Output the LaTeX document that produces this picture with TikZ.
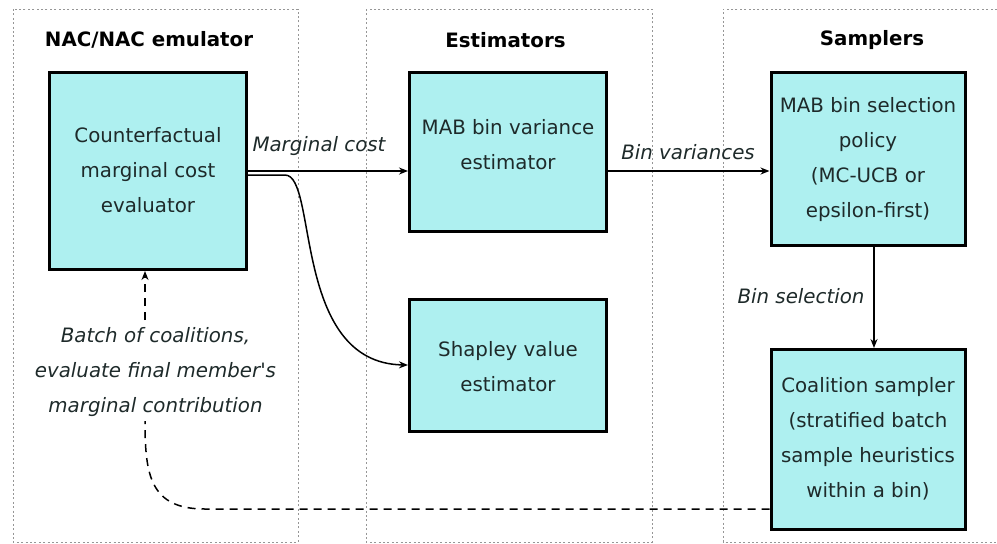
\documentclass[tikz,border=0pt]{standalone}
\usepackage{fontspec}
\setmainfont{DejaVu Sans}
\usetikzlibrary{arrows.meta}
\definecolor{boxfill}{RGB}{174,240,240}
\definecolor{txt}{RGB}{30,42,42}
\definecolor{panelc}{RGB}{150,150,150}
\begin{document}
\begin{tikzpicture}[x=0.5pt,y=-0.5pt,
  font=\fontsize{9.9pt}{17.5pt}\selectfont,
  panel/.style={draw=panelc,line width=0.5pt,dash pattern=on 1pt off 1.2pt},
  box/.style={draw=black,line width=1.5pt,fill=boxfill,inner sep=0pt},
  boxtext/.style={align=center,text=txt},
  title/.style={font=\fontsize{9.9pt}{12pt}\selectfont\bfseries},
  lbl/.style={font=\fontsize{9.9pt}{17.5pt}\selectfont\itshape,text=txt,align=center},
  conn/.style={line width=0.75pt,-{Stealth[length=4.5pt,width=3.5pt]}},
  backline/.style={line width=0.75pt,dash pattern=on 4pt off 3pt},
  back/.style={backline,-{Stealth[length=4.5pt,width=3.5pt]}}]
\useasboundingbox (0,0) rectangle (997,543);
% panels
\draw[panel] (13,9) rectangle (298,542);
\draw[panel] (366,9) rectangle (652,542);
\draw[panel] (997,9) -- (723,9) -- (723,542) -- (997,542);
% titles
\node[title] (T1) at (149,40) {NAC/NAC emulator};
\node[title] (T2) at (505.5,40) {Estimators};
\node[title] (T3) at (872,40) {Samplers};
% boxes
\node[box,minimum width=98.5pt,minimum height=98.5pt] (A) at (148,171) {};
\node[box,minimum width=98.5pt,minimum height=79.5pt] (B) at (508,152) {};
\node[box,minimum width=98.5pt,minimum height=66pt] (C) at (508,365) {};
\node[box,minimum width=97pt,minimum height=86.5pt] (D) at (868,159) {};
\node[box,minimum width=97pt,minimum height=90pt] (E) at (868,439.5) {};
% box texts
\node[boxtext] (At) at (148,170) {Counterfactual\\marginal cost\\evaluator};
\node[boxtext] (Bt) at (508,144.5) {MAB bin variance\\estimator};
\node[boxtext] (Ct) at (508,366.5) {Shapley value\\estimator};
\node[boxtext] (Dt) at (868,160) {MAB bin selection\\policy\\(MC-UCB or\\epsilon-first)};
\node[boxtext] (Et) at (868,438.5) {Coalition sampler\\(stratified batch\\sample heuristics\\within a bin)};
% labels
\node[lbl] (L1) at (319,146) {Marginal cost};
\node[lbl] (L2) at (688,152) {Bin variances};
\node[lbl] (L3) at (801,296) {Bin selection};
\node[lbl] (L4) at (155.5,371.7) {Batch of coalitions,\\evaluate final member\textquotesingle s\\marginal contribution};
\coordinate (bl1) at (145,421);
\coordinate (bl2) at (145,320);
% connectors
\draw[conn] (A.east) -- (A.east -| B.west);
\draw[conn] ([yshift=-2pt]A.east) -- (285,175) .. controls (318,175) and (292,363) .. (C.west);
\draw[conn] (A.east -| B.east) -- (A.east -| D.west);
\draw[conn] ([xshift=3pt]D.south) -- ([xshift=3pt]E.north);
\draw[backline] ([yshift=-34.75pt]E.west) -- (205,509) .. controls (150,509) and (145,475) .. (bl1);
\draw[back] (bl2) -- (A.south -| bl2);
\end{tikzpicture}
\end{document}
